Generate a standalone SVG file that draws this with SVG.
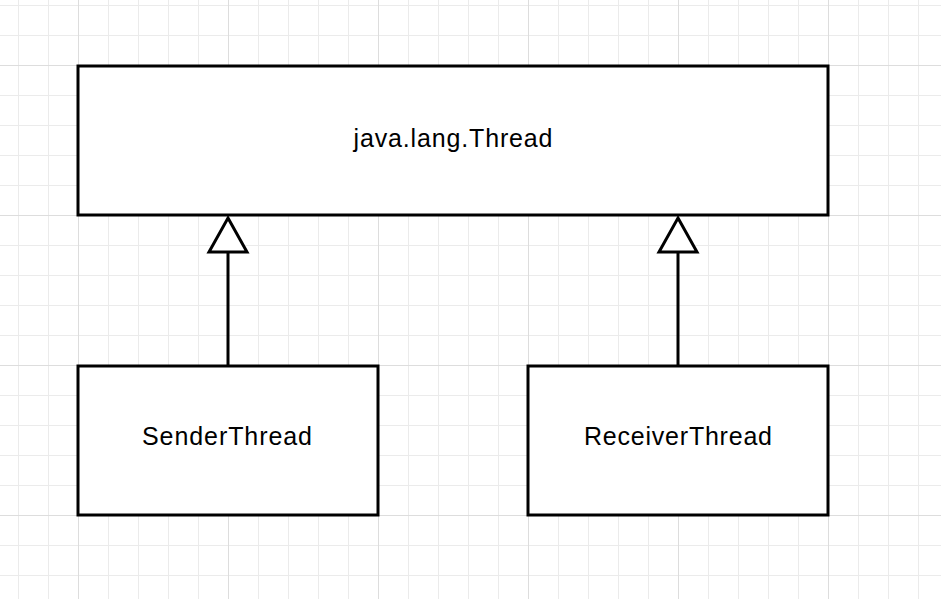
<svg xmlns="http://www.w3.org/2000/svg" width="941" height="599" viewBox="0 0 941 599">
<defs>
<pattern id="minor" x="18" y="5" width="30" height="30" patternUnits="userSpaceOnUse">
<path d="M0.5 0V30M0 0.5H30" fill="none" stroke="#ebebeb" stroke-width="1"/>
</pattern>
<pattern id="major" x="78" y="65" width="150" height="150" patternUnits="userSpaceOnUse">
<path d="M0.5 0V150M0 0.5H150" fill="none" stroke="#dddddd" stroke-width="1"/>
</pattern>
</defs>
<style>
.box{fill:#ffffff;stroke:#000000;stroke-width:3}
.lbl{font-family:"Liberation Sans",Arial,sans-serif;font-size:25px;fill:#000000;text-anchor:middle}
.edge{fill:none;stroke:#000000;stroke-width:3}
.head{fill:#ffffff;stroke:#000000;stroke-width:3}
</style>
<rect width="941" height="599" fill="#ffffff"/>
<rect width="941" height="599" fill="url(#minor)"/>
<rect width="941" height="599" fill="url(#major)"/>
<g id="connectors">
<path class="edge" d="M228 365V252"/>
<path class="head" d="M228 218L247 252H209Z"/>
<path class="edge" d="M678 365V252"/>
<path class="head" d="M678 218L697 252H659Z"/>
</g>
<g id="thread">
<rect class="box" x="78" y="66" width="750" height="149"/>
<text class="lbl" x="453" y="147" textLength="199" lengthAdjust="spacing">java.lang.Thread</text>
</g>
<g id="sender">
<rect class="box" x="78" y="366" width="300" height="149"/>
<text class="lbl" x="227" y="445" textLength="170" lengthAdjust="spacing">SenderThread</text>
</g>
<g id="receiver">
<rect class="box" x="528" y="366" width="300" height="149"/>
<text class="lbl" x="678" y="445" textLength="188" lengthAdjust="spacing">ReceiverThread</text>
</g>
</svg>
